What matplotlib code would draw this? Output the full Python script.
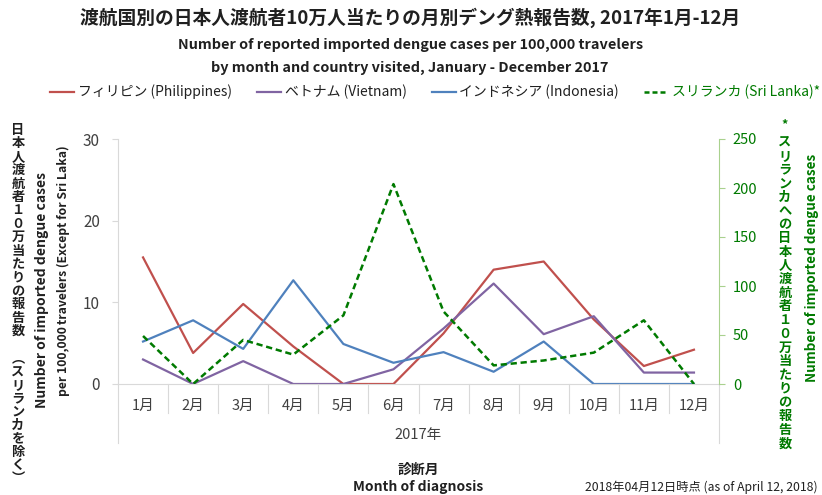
import matplotlib
matplotlib.use('Agg')
import matplotlib.pyplot as plt
from matplotlib.lines import Line2D
import numpy as np

plt.rcParams['font.family'] = ['Noto Sans CJK JP', 'DejaVu Sans']

# data
months = ['1月', '2月', '3月', '4月', '5月', '6月', '7月', '8月', '9月', '10月', '11月', '12月']
philippines = [15.5, 3.8, 9.8, 4.6, 0, 0, 6.2, 14.0, 15.0, 7.9, 2.2, 4.2]
vietnam = [3.0, 0, 2.8, 0, 0, 1.8, 6.8, 12.3, 6.1, 8.3, 1.4, 1.4]
indonesia = [5.2, 7.8, 4.3, 12.7, 4.9, 2.6, 3.9, 1.5, 5.2, 0, 0, 0]
sri_lanka = [49, 0, 45, 30, 70, 204, 74, 19, 24, 32, 65, 0]

W, H = 822, 495
RED, PURPLE, BLUE, GREEN = '#C0504D', '#8064A2', '#4F81BD', '#007A00'
GRAY = '#D9D9D9'
TXT = '#404040'
DARK = '#202020'


def px(x, y):
    return x / W, 1 - y / H


def vtext(x, y0, step, s, **kw):
    # stacked (upright) japanese text, one glyph per slot
    for i, ch in enumerate(s):
        if ch == ' ':
            continue
        fig.text(*px(x, y0 + i * step), ch, ha='center', va='center', **kw)


fig = plt.figure(figsize=(W / 100, H / 100), dpi=100)
ax = fig.add_axes([118 / W, (H - 384) / H, 601 / W, 245 / H])
ax2 = ax.twinx()

x = np.arange(len(months))
ax.plot(x, philippines, color=RED, lw=1.6)
ax.plot(x, vietnam, color=PURPLE, lw=1.6)
ax.plot(x, indonesia, color=BLUE, lw=1.6)
ax2.plot(x, sri_lanka, color=GREEN, lw=1.8, ls=(0, (2.5, 1.5)))

ax.set_xlim(-0.5, 11.5)
ax.set_ylim(0, 30)
ax.set_yticks([0, 10, 20, 30])
ax2.set_ylim(0, 250)
ax2.set_yticks(range(0, 251, 50))
ax.set_xticks(x)
ax.set_xticklabels(months)

for s in ['top', 'right']:
    ax.spines[s].set_visible(False)
ax.spines['left'].set_color(GRAY)
ax.spines['bottom'].set_color(GRAY)
for s in ['top', 'left', 'bottom']:
    ax2.spines[s].set_visible(False)
ax2.spines['right'].set_color('#A9D18E')

ax.tick_params(axis='y', length=4, color=GRAY, labelcolor=TXT, labelsize=11, pad=9)
ax.tick_params(axis='x', length=0, labelcolor=TXT, labelsize=10.5, pad=11)
ax2.tick_params(axis='y', length=4, color='#A9D18E', labelcolor=GREEN, labelsize=10.5, pad=6)

# category separators below the axis
tr = ax.get_xaxis_transform()
for k in np.arange(0.5, 11, 1):
    ax.plot([k, k], [0, -0.118], color=GRAY, lw=0.8, transform=tr, clip_on=False)
for k in [-0.5, 11.5]:
    ax.plot([k, k], [0, -0.241], color=GRAY, lw=0.8, transform=tr, clip_on=False)

fig.text(*px(418, 435), '2017年', ha='center', va='center', fontsize=10.5, color=TXT)

# titles
fig.text(*px(410, 18), '渡航国別の日本人渡航者10万人当たりの月別デング熱報告数, 2017年1月-12月',
         ha='center', va='center', fontsize=13.5, fontweight='bold', color=DARK)
fig.text(*px(411, 45), 'Number of reported imported dengue cases per 100,000 travelers',
         ha='center', va='center', fontsize=10.4, fontweight='bold', color=DARK)
fig.text(*px(410, 68), 'by month and country visited, January - December 2017',
         ha='center', va='center', fontsize=10.4, fontweight='bold', color=DARK)

handles = [Line2D([], [], color=RED, lw=1.6),
           Line2D([], [], color=PURPLE, lw=1.6),
           Line2D([], [], color=BLUE, lw=1.6),
           Line2D([], [], color=GREEN, lw=1.8, ls=(0, (2, 1.2)))]
labels = ['フィリピン (Philippines)', 'ベトナム (Vietnam)', 'インドネシア (Indonesia)', 'スリランカ (Sri Lanka)*']
leg = fig.legend(handles, labels, loc='center', bbox_to_anchor=px(435, 92), ncol=4,
                 frameon=False, fontsize=10, handlelength=1.75, handletextpad=0.25,
                 columnspacing=1.8, borderaxespad=0, borderpad=0)
for t in leg.get_texts():
    t.set_color(DARK)
leg.get_texts()[3].set_color(GREEN)

# left axis titles
vtext(18, 130, 13.4, '日本人渡航者１０万当たりの報告数 ︵スリランカを除く︶',
      fontsize=9.5, fontweight='bold', color=DARK)
fig.text(*px(42, 290), 'Number of imported dengue cases', rotation=90,
         ha='center', va='center', fontsize=10, fontweight='bold', color=DARK)
fig.text(*px(63, 396), 'per 100,000', rotation=90,
         ha='center', va='bottom', fontsize=8.8, fontweight='bold', color=DARK)
fig.text(*px(63, 324), 'travelers (Except for Sri Laka)', rotation=90,
         ha='center', va='bottom', fontsize=8.8, fontweight='bold', style='italic', color=DARK)

# right axis titles
fig.text(*px(785, 125), '*', ha='center', va='center', fontsize=9, fontweight='bold', color=GREEN)
vtext(785, 142, 13.7, 'スリランカへの日本人渡航者１０万当たりの報告数',
      fontsize=9.5, fontweight='bold', color=GREEN)
fig.text(*px(812, 268), 'Number of imported dengue cases', rotation=90,
         ha='center', va='center', fontsize=9.7, fontweight='bold', color=GREEN)

# bottom texts
fig.text(*px(418, 470), '診断月', ha='center', va='center', fontsize=10, fontweight='bold', color=DARK)
fig.text(*px(418, 487), 'Month of diagnosis', ha='center', va='center', fontsize=10,
         fontweight='bold', color=DARK)
fig.text(*px(818, 487), '2018年04月12日時点 (as of April 12, 2018)', ha='right', va='center',
         fontsize=8.8, color=DARK)

fig.savefig('out.png', dpi=100)
